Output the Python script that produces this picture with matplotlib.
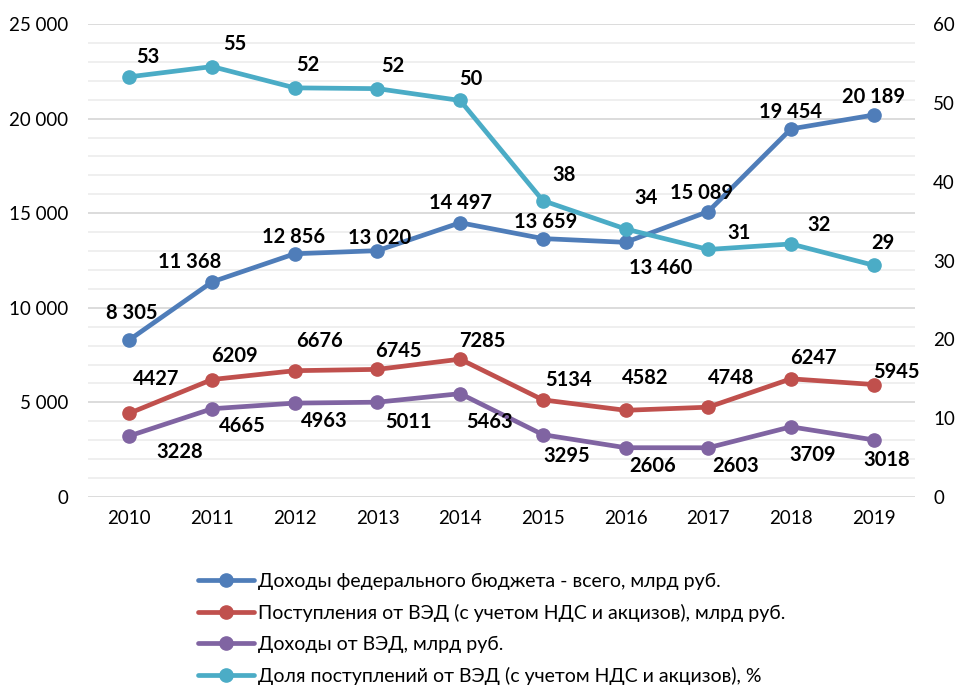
import matplotlib
matplotlib.use("Agg")
import matplotlib.pyplot as plt
from matplotlib.ticker import MultipleLocator, FuncFormatter

plt.rcParams['font.family'] = ['Lato', 'DejaVu Sans']

years = [2010, 2011, 2012, 2013, 2014, 2015, 2016, 2017, 2018, 2019]
budget = [8305, 11368, 12856, 13020, 14497, 13659, 13460, 15089, 19454, 20189]
ved_total = [4427, 6209, 6676, 6745, 7285, 5134, 4582, 4748, 6247, 5945]
ved_income = [3228, 4665, 4963, 5011, 5463, 3295, 2606, 2603, 3709, 3018]
ved_share = [53.3, 54.6, 51.9, 51.8, 50.3, 37.6, 34.0, 31.4, 32.1, 29.4]

labels = [
    "Доходы федерального бюджета - всего, млрд руб.",
    "Поступления от ВЭД (с учетом НДС и акцизов), млрд руб.",
    "Доходы от ВЭД, млрд руб.",
    "Доля поступлений от ВЭД (с учетом НДС и акцизов), %",
]
colors = ["#4F7DB9", "#C0504D", "#8064A2", "#4BACC6"]

# label offsets in pixels (dx, dy) relative to the data point
off_budget = [(2, 27), (-22, 20), (-1, 17), (2, 13), (0, 20), (3, 17), (35, -26), (-7, 19), (0, 17), (0, 18)]
off_total = [(27, 34), (22, 24), (25, 30), (21, 18), (22, 18), (26, 20), (20, 32), (23, 29), (22, 21), (23, 13)]
off_income = [(50, -16), (30, -17), (30, -18), (31, -20), (29, -28), (24, -21), (27, -18), (27, -18), (22, -28), (13, -20)]
off_share = [(19, 20), (23, 23), (13, 23), (15, 23), (11, 21), (21, 26), (20, 31), (31, 16), (28, 19), (9, 22)]

fig = plt.figure(figsize=(9.59, 6.85), dpi=100)
ax = fig.add_axes([88/959, 1-497/685, (915-88)/959, (497-24)/685])
ax2 = ax.twinx()

x = list(range(len(years)))
lw = 3.4
ms = 9.5

ax.set_ylim(0, 25000)
ax.set_xlim(-0.5, len(years) - 0.5)
ax2.set_ylim(0, 60)

ax.yaxis.set_major_locator(MultipleLocator(5000))
ax.yaxis.set_minor_locator(MultipleLocator(1000))
ax.grid(which='major', axis='y', color='#D9D9D9', lw=1.3, zorder=0)
ax.grid(which='minor', axis='y', color='#EEEEEE', lw=1.3, zorder=0)
ax.set_axisbelow(True)

ax.yaxis.set_major_formatter(FuncFormatter(lambda v, p: f"{int(v):,}".replace(",", " ")))
ax.set_xticks(x)
ax.set_xticklabels([str(y) for y in years])
ax.tick_params(axis='both', which='both', length=0, labelsize=13.5, colors='#000000')
ax.tick_params(axis='x', pad=9)
ax.tick_params(axis='y', pad=14)
ax2.yaxis.set_major_locator(MultipleLocator(10))
ax2.tick_params(axis='y', which='both', length=0, labelsize=13.5, pad=13)

for a in (ax, ax2):
    for s in a.spines.values():
        s.set_visible(False)

series = [(ax, budget, off_budget, lambda v: f"{v:,}".replace(",", " ")),
          (ax, ved_total, off_total, lambda v: f"{v}"),
          (ax, ved_income, off_income, lambda v: f"{v}"),
          (ax2, ved_share, off_share, lambda v: f"{v:.0f}")]

handles = []
for (a, vals, offs, fmt), c, lab in zip(series, colors, labels):
    h, = a.plot(x, vals, color=c, lw=lw, marker='o', ms=ms, label=lab, zorder=3,
                solid_capstyle='round')
    handles.append(h)
    for xi, v, (dx, dy) in zip(x, vals, offs):
        a.annotate(fmt(v), (xi, v), xytext=(dx, dy), textcoords='offset pixels',
                   ha='center', va='center', fontsize=14.5, fontweight='bold', color='#000000')

fig.legend(handles=handles, labels=labels, loc='upper left',
           bbox_to_anchor=(190/959, 1-565/685), frameon=False, fontsize=14,
           handlelength=2.9, handletextpad=0.2, labelspacing=0.72, borderaxespad=0)

fig.savefig("out.png", dpi=100, facecolor='white')
